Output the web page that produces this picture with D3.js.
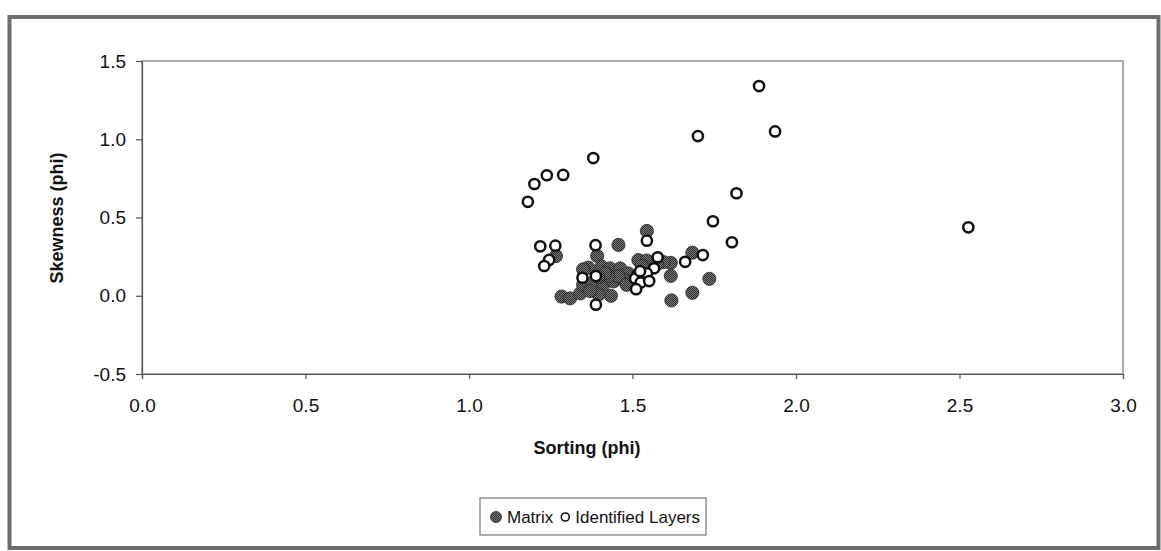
<!DOCTYPE html>
<html>
<head>
<meta charset="utf-8">
<script src="https://cdn.jsdelivr.net/npm/d3@7"></script>
<style>
  html, body { margin: 0; padding: 0; background: #fff; }
  svg { display: block; }
  text { font-family: "Liberation Sans", Arial, sans-serif; fill: #111; }
</style>
</head>
<body>
<svg id="chart" width="1161" height="551"></svg>
<script>
// Sorting vs. skewness (phi) for the matrix samples
const matrixSorting = [1.266, 1.392, 1.457, 1.544, 1.683, 1.617, 1.617, 1.735, 1.683, 1.619,
  1.283, 1.309, 1.340, 1.434, 1.365, 1.406, 1.431, 1.462, 1.487, 1.518,
  1.544, 1.349, 1.380, 1.411, 1.442, 1.472, 1.396, 1.370, 1.502, 1.595,
  1.457, 1.426, 1.349, 1.416, 1.482, 1.395, 1.529, 1.575];
const matrixSkewness = [0.254, 0.254, 0.325, 0.414, 0.275, 0.210, 0.127, 0.108, 0.019, -0.030,
  -0.005, -0.017, 0.015, 0.000, 0.180, 0.186, 0.175, 0.175, 0.143, 0.228,
  0.225, 0.071, 0.085, 0.071, 0.092, 0.103, 0.008, 0.030, 0.082, 0.215,
  0.126, 0.126, 0.169, 0.143, 0.070, 0.120, 0.190, 0.200];

// Sorting vs. skewness (phi) for the identified layers
const layerSorting = [1.887, 1.700, 1.936, 1.818, 1.746, 1.804, 2.527, 1.715, 1.380, 1.238,
  1.288, 1.200, 1.180, 1.218, 1.264, 1.245, 1.230, 1.387, 1.544, 1.577,
  1.661, 1.388, 1.388, 1.347, 1.566, 1.544, 1.515, 1.508, 1.525, 1.511,
  1.551, 1.523];
const layerSkewness = [1.340, 1.020, 1.050, 0.655, 0.476, 0.342, 0.437, 0.260, 0.880, 0.770,
  0.772, 0.714, 0.600, 0.316, 0.320, 0.229, 0.190, 0.323, 0.352, 0.246,
  0.217, -0.057, 0.126, 0.115, 0.175, 0.143, 0.132, 0.110, 0.084, 0.042,
  0.094, 0.157];

const xTicks = [0.0, 0.5, 1.0, 1.5, 2.0, 2.5, 3.0];
const yTicks = [-0.5, 0.0, 0.5, 1.0, 1.5];
const seriesNames = ["Matrix", "Identified Layers"];

const svg = d3.select("#chart");
const plot = { left: 142, right: 1123, top: 61, bottom: 374 };

const x = d3.scaleLinear().domain([0, 3]).range([plot.left, plot.right]);
const y = d3.scaleLinear().domain([-0.5, 1.5]).range([plot.bottom, plot.top]);

// halftone-style fill for the solid markers
const defs = svg.append("defs");
const pat = defs.append("pattern")
  .attr("id", "dots").attr("width", 2).attr("height", 2)
  .attr("patternUnits", "userSpaceOnUse");
pat.append("rect").attr("width", 2).attr("height", 2).attr("fill", "#7a7a7a");
pat.append("rect").attr("width", 1).attr("height", 1).attr("fill", "#2e2e2e");
pat.append("rect").attr("x", 1).attr("y", 1).attr("width", 1).attr("height", 1).attr("fill", "#2e2e2e");

// outer chart frame
svg.append("rect")
  .attr("x", 9.5).attr("y", 17).attr("width", 1149).attr("height", 531)
  .attr("fill", "none").attr("stroke", "#6e6e6e").attr("stroke-width", 4);

// plot area frame
svg.append("rect")
  .attr("x", plot.left).attr("y", plot.top)
  .attr("width", plot.right - plot.left).attr("height", plot.bottom - plot.top)
  .attr("fill", "none").attr("stroke", "#777").attr("stroke-width", 1.2);

// axes (plain hyphen for negatives)
const fmt = d => d.toFixed(1);
const xAxis = svg.append("g")
  .attr("transform", `translate(0,${plot.bottom})`)
  .call(d3.axisBottom(x).tickValues(xTicks).tickFormat(fmt).tickSize(5).tickPadding(20));
const yAxis = svg.append("g")
  .attr("transform", `translate(${plot.left},0)`)
  .call(d3.axisLeft(y).tickValues(yTicks).tickFormat(fmt).tickSize(6).tickPadding(10));

[xAxis, yAxis].forEach(g => {
  g.select(".domain").attr("stroke", "#555").attr("stroke-width", 1.2);
  g.selectAll(".tick line").attr("stroke", "#555").attr("stroke-width", 1.2);
  g.selectAll(".tick text")
    .style("font-family", '"Liberation Sans", Arial, sans-serif')
    .style("font-size", "19px").attr("fill", "#111");
});

// axis titles
svg.append("text")
  .attr("x", 587).attr("y", 454)
  .attr("text-anchor", "middle")
  .style("font-size", "18px").style("font-weight", "bold")
  .text("Sorting (phi)");

svg.append("text")
  .attr("transform", "translate(63,218) rotate(-90)")
  .attr("text-anchor", "middle")
  .style("font-size", "18px").style("font-weight", "bold")
  .text("Skewness (phi)");

// markers
const matrix = matrixSorting.map((s, i) => ({ s, k: matrixSkewness[i] }));
const layers = layerSorting.map((s, i) => ({ s, k: layerSkewness[i] }));

svg.append("g").selectAll("circle").data(matrix).join("circle")
  .attr("cx", d => x(d.s)).attr("cy", d => y(d.k)).attr("r", 6.6)
  .attr("fill", "url(#dots)").attr("stroke", "#2a2a2a").attr("stroke-width", 0.8);

svg.append("g").selectAll("circle").data(layers).join("circle")
  .attr("cx", d => x(d.s)).attr("cy", d => y(d.k)).attr("r", 5.1)
  .attr("fill", "#fff").attr("stroke", "#111").attr("stroke-width", 2.5);

// legend
const lg = svg.append("g");
const lgX = 480, lgY = 498;
const lgBox = lg.append("rect")
  .attr("x", lgX).attr("y", lgY).attr("height", 37)
  .attr("fill", "#fff").attr("stroke", "#777").attr("stroke-width", 1.2);
const itemY = lgY + 19;
let cx = lgX + 16;
lg.append("circle").attr("cx", cx).attr("cy", itemY).attr("r", 5.5)
  .attr("fill", "url(#dots)").attr("stroke", "#2a2a2a").attr("stroke-width", 0.8);
const t1 = lg.append("text").attr("x", cx + 11).attr("y", itemY + 6)
  .style("font-size", "17px").text(seriesNames[0]);
cx = cx + 11 + t1.node().getComputedTextLength() + 12;
lg.append("circle").attr("cx", cx).attr("cy", itemY).attr("r", 4)
  .attr("fill", "#fff").attr("stroke", "#111").attr("stroke-width", 1.6);
const t2 = lg.append("text").attr("x", cx + 10).attr("y", itemY + 6)
  .style("font-size", "17px").text(seriesNames[1]);
const endX = cx + 10 + t2.node().getComputedTextLength() + 6;
lgBox.attr("width", endX - lgX);
</script>
</body>
</html>
